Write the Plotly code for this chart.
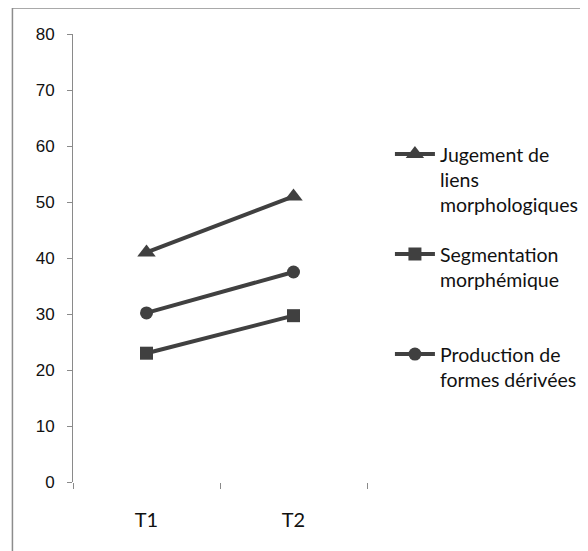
import plotly.graph_objects as go

categories = ["T1", "T2"]
series_names = [
    "Jugement de<br>liens<br>morphologiques",
    "Segmentation<br>morphémique<br>\u00a0",
    "Production de<br>formes dérivées",
]
jugement = [41, 51]
segmentation = [23, 29.7]
production = [30.2, 37.5]

y_ticks = [0, 10, 20, 30, 40, 50, 60, 70, 80]

dark = "#404040"
axis_gray = "#8a8a8a"
narrow = "Lato, Liberation Sans Narrow, sans-serif"

fig = go.Figure()
fig.add_trace(go.Scatter(
    x=categories, y=jugement, name=series_names[0], mode="lines+markers",
    line=dict(color=dark, width=4),
    marker=dict(symbol="triangle-up", size=16, color=dark),
    legendgroup="a",
))
fig.add_trace(go.Scatter(
    x=categories, y=segmentation, name=series_names[1], mode="lines+markers",
    line=dict(color=dark, width=4),
    marker=dict(symbol="square", size=13, color=dark),
    legendgroup="b",
))
fig.add_trace(go.Scatter(
    x=categories, y=production, name=series_names[2], mode="lines+markers",
    line=dict(color=dark, width=4),
    marker=dict(symbol="circle", size=13, color=dark),
    legendgroup="c",
))

fig.update_layout(
    width=580, height=543,
    margin=dict(l=65, r=221, t=26, b=69, autoexpand=False),
    paper_bgcolor="white", plot_bgcolor="white",
    showlegend=True,
    legend=dict(
        x=1.078, xanchor="left", y=0.775, yanchor="top",
        font=dict(family=narrow, size=19.5, color="#111111"),
        itemwidth=40, valign="top", tracegroupgap=21,
        bgcolor="rgba(0,0,0,0)",
    ),
    xaxis=dict(
        type="category", range=[-0.5, 1.5], showgrid=False, zeroline=False,
        showline=False, ticks="outside", tickson="boundaries", ticklen=6,
        tickcolor=axis_gray, tickwidth=1,
        tickfont=dict(family=narrow, size=20, color="#111111"),
        ticklabelstandoff=24,
    ),
    yaxis=dict(
        range=[0, 80], tickvals=y_ticks, showgrid=False, zeroline=False,
        showline=True, linecolor=axis_gray, linewidth=1,
        ticks="outside", ticklen=5, tickcolor=axis_gray,
        tickfont=dict(family="Liberation Sans, Arial, sans-serif", size=17, color="#111111"),
        ticklabelstandoff=9,
    ),
    shapes=[
        dict(type="line", xref="paper", yref="paper", x0=-0.206, x1=1.8, y0=1.058, y1=1.058,
             line=dict(color="#8c8c8c", width=1.5)),
        dict(type="line", xref="paper", yref="paper", x0=-0.206, x1=-0.206, y0=1.058, y1=-0.3,
             line=dict(color="#8c8c8c", width=1.5)),
    ],
)

fig.write_html("out.html")
